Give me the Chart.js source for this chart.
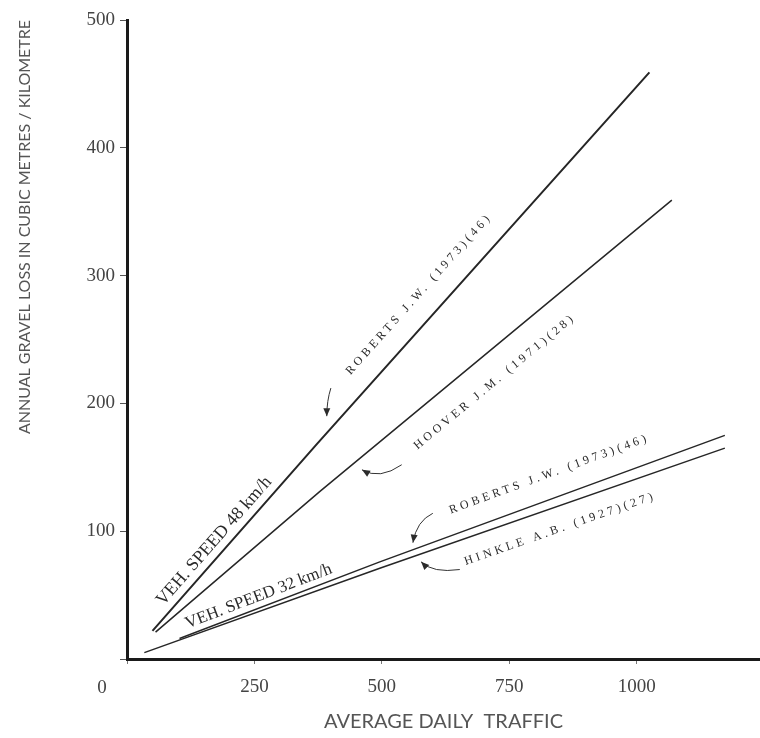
<!DOCTYPE html>
<html>
<head>
<meta charset="utf-8">
<script src="https://cdn.jsdelivr.net/npm/chart.js@4/dist/chart.umd.min.js"></script>
<style>
  html, body { margin: 0; padding: 0; background: #fff; }
  #wrap { width: 760px; height: 738px; }
</style>
</head>
<body>
<div id="wrap"><canvas id="gravelChart" width="760" height="738"></canvas></div>
<script>
// values (average daily traffic vs annual gravel loss, m3/km)
const roberts48X = [50, 372, 1025];
const roberts48Y = [22, 168, 459];
const hooverX = [56, 378, 1069];
const hooverY = [21, 131, 359];
const roberts32X = [103, 496, 1173];
const roberts32Y = [16, 76, 175];
const hinkleX = [34, 496, 1173];
const hinkleY = [5, 71, 165];

const xTicks = [0, 250, 500, 750, 1000];
const yTicks = [0, 100, 200, 300, 400, 500];

// text written along the lines: series index, data x of centre, offset from line (px, + = above)
const lineLabels = [
    { text: 'VEH. SPEED 48 km/h', series: 0, x: 190, offset: 13, size: 18, spacing: 0 },
    { text: 'ROBERTS J.W. (1973)(46)', series: 0, x: 608, offset: 24, size: 12, spacing: 3.5 },
    { text: 'HOOVER J.M. (1971)(28)', series: 1, x: 688, offset: -27, size: 12, spacing: 3.5 },
    { text: 'VEH. SPEED 32 km/h', series: 2, x: 266, offset: 11, size: 17, spacing: 0 },
    { text: 'ROBERTS J.W. (1973)(46)', series: 2, x: 845, offset: 24, size: 12, spacing: 3.5 },
    { text: 'HINKLE A.B. (1927)(27)', series: 3, x: 836, offset: -22, size: 12, spacing: 3.5 }
];

// pointer arrows: tail, bend, tip (data units)
const arrowTail = [[400, 212], [539, 152], [600, 114], [653, 70]];
const arrowBend = [[392, 202], [496, 140], [568, 108], [600, 67]];
const arrowTip = [[392, 190], [461, 148], [561, 91], [577, 76]];

const toPoints = (xs, ys) => xs.map((x, i) => ({ x: x, y: ys[i] }));
const seriesX = [roberts48X, hooverX, roberts32X, hinkleX];
const seriesY = [roberts48Y, hooverY, roberts32Y, hinkleY];

function interpY(xs, ys, x) {
    for (let i = 0; i < xs.length - 1; i++) {
        if (x <= xs[i + 1] || i === xs.length - 2) {
            const t = (x - xs[i]) / (xs[i + 1] - xs[i]);
            return { y: ys[i] + t * (ys[i + 1] - ys[i]), i: i };
        }
    }
}

const annotationPlugin = {
    id: 'annotations',
    afterDatasetsDraw(chart) {
        const ctx = chart.ctx;
        const xs = chart.scales.x;
        const ys = chart.scales.y;

        ctx.save();
        ctx.fillStyle = '#2b2b2b';
        lineLabels.forEach(lbl => {
            const sx = seriesX[lbl.series];
            const sy = seriesY[lbl.series];
            const r = interpY(sx, sy, lbl.x);
            const px = xs.getPixelForValue(lbl.x);
            const py = ys.getPixelForValue(r.y);
            const dx = xs.getPixelForValue(sx[r.i + 1]) - xs.getPixelForValue(sx[r.i]);
            const dy = ys.getPixelForValue(sy[r.i + 1]) - ys.getPixelForValue(sy[r.i]);
            const a = Math.atan2(dy, dx);
            const cx = px + lbl.offset * Math.sin(a);
            const cy = py - lbl.offset * Math.cos(a);
            ctx.save();
            ctx.translate(cx, cy);
            ctx.rotate(a);
            ctx.font = lbl.size + 'px "Liberation Serif", serif';
            ctx.letterSpacing = lbl.spacing + 'px';
            ctx.textAlign = 'center';
            ctx.textBaseline = 'middle';
            ctx.fillText(lbl.text, 0, 0);
            ctx.restore();
        });

        // arrows
        ctx.strokeStyle = '#333';
        ctx.lineWidth = 1;
        arrowTip.forEach((tip, k) => {
            const t0 = [xs.getPixelForValue(arrowTail[k][0]), ys.getPixelForValue(arrowTail[k][1])];
            const b = [xs.getPixelForValue(arrowBend[k][0]), ys.getPixelForValue(arrowBend[k][1])];
            const p = [xs.getPixelForValue(tip[0]), ys.getPixelForValue(tip[1])];
            ctx.beginPath();
            ctx.moveTo(t0[0], t0[1]);
            ctx.quadraticCurveTo(b[0], b[1], p[0], p[1]);
            ctx.stroke();
            const ang = Math.atan2(p[1] - b[1], p[0] - b[0]);
            ctx.save();
            ctx.translate(p[0], p[1]);
            ctx.rotate(ang);
            ctx.beginPath();
            ctx.moveTo(0, 0);
            ctx.lineTo(-8, -3.5);
            ctx.lineTo(-8, 3.5);
            ctx.closePath();
            ctx.fill();
            ctx.restore();
        });

        // origin label sits left of the axis corner
        ctx.font = '19px "Liberation Serif", serif';
        ctx.fillStyle = '#444';
        ctx.textAlign = 'center';
        ctx.textBaseline = 'middle';
        ctx.fillText('0', xs.getPixelForValue(0) - 25, 688);
        ctx.restore();
    }
};

const lineStyle = (w) => ({
    borderColor: '#262626',
    borderWidth: w,
    pointRadius: 0,
    showLine: true,
    fill: false,
    tension: 0
});

new Chart(document.getElementById('gravelChart'), {
    type: 'scatter',
    data: {
        datasets: [
            Object.assign({ label: 'Roberts 48 km/h', data: toPoints(roberts48X, roberts48Y) }, lineStyle(2)),
            Object.assign({ label: 'Hoover', data: toPoints(hooverX, hooverY) }, lineStyle(1.5)),
            Object.assign({ label: 'Roberts 32 km/h', data: toPoints(roberts32X, roberts32Y) }, lineStyle(1.5)),
            Object.assign({ label: 'Hinkle', data: toPoints(hinkleX, hinkleY) }, lineStyle(1.5))
        ]
    },
    options: {
        responsive: false,
        animation: false,
        layout: { padding: { top: 20, right: 0, left: 0, bottom: 0 } },
        plugins: {
            legend: { display: false },
            tooltip: { enabled: false }
        },
        scales: {
            x: {
                type: 'linear',
                min: 0,
                max: 1242,
                afterBuildTicks: s => { s.ticks = xTicks.map(v => ({ value: v })); },
                afterFit: s => { s.height = 79; },
                border: { color: '#1a1a1a', width: 3 },
                grid: { drawOnChartArea: false, drawTicks: true, tickLength: 5, tickColor: '#777' },
                ticks: {
                    padding: 12,
                    color: '#444',
                    font: { family: '"Liberation Serif", serif', size: 19 },
                    callback: v => (v === 0 ? '' : v)
                },
                title: {
                    display: true,
                    text: 'AVERAGE DAILY  TRAFFIC',
                    color: '#555',
                    font: { family: 'Lato, sans-serif', size: 20 },
                    padding: { top: 10 }
                }
            },
            y: {
                min: 0,
                max: 500,
                afterBuildTicks: s => { s.ticks = yTicks.map(v => ({ value: v })); },
                afterFit: s => { s.width = 127; },
                border: { color: '#1a1a1a', width: 3 },
                grid: { drawOnChartArea: false, drawTicks: true, tickLength: 7, tickColor: '#555' },
                ticks: {
                    padding: 5,
                    color: '#444',
                    font: { family: '"Liberation Serif", serif', size: 19 },
                    callback: v => (v === 0 ? '' : v)
                },
                title: {
                    display: true,
                    align: 'end',
                    text: 'ANNUAL GRAVEL LOSS IN CUBIC METRES / KILOMETRE',
                    color: '#555',
                    font: { family: 'Lato, sans-serif', size: 16 },
                    padding: { top: 15, bottom: 8 }
                }
            }
        }
    },
    plugins: [annotationPlugin]
});
</script>
</body>
</html>
